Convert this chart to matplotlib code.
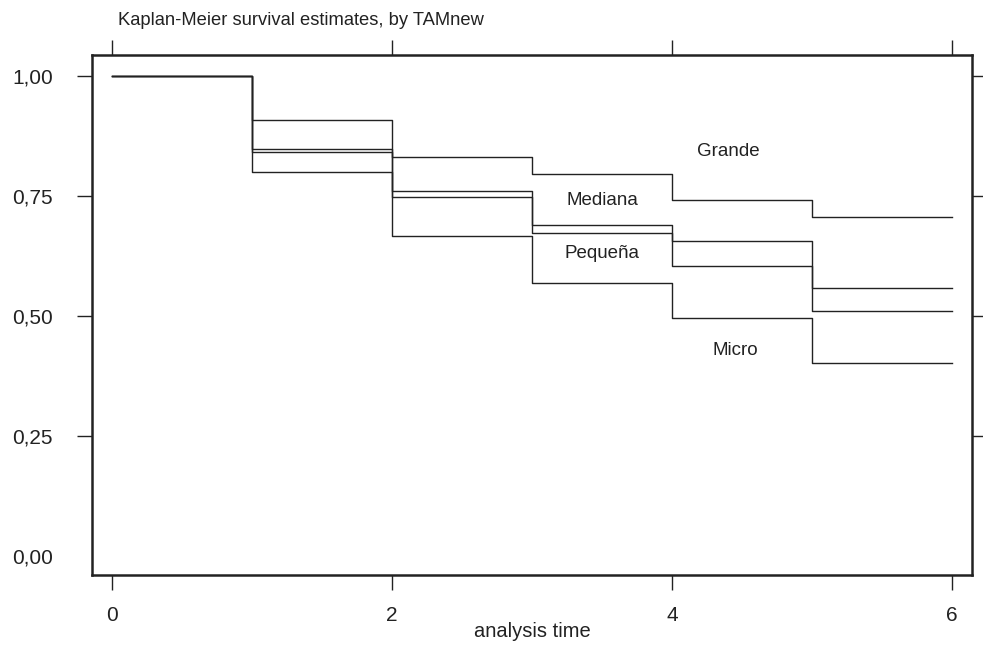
import matplotlib.pyplot as plt

plt.rcParams['font.family'] = ['Liberation Sans Narrow', 'Liberation Sans', 'DejaVu Sans']

# Kaplan-Meier estimates at each time step (value holds from t to t+1)
times = [0, 1, 2, 3, 4, 5, 6]
grande = [1.0, 0.908, 0.832, 0.796, 0.742, 0.706, 0.706]
mediana = [1.0, 0.848, 0.761, 0.689, 0.656, 0.558, 0.558]
pequena = [1.0, 0.842, 0.747, 0.672, 0.604, 0.510, 0.510]
micro = [1.0, 0.800, 0.667, 0.568, 0.495, 0.403, 0.403]

series = [grande, mediana, pequena, micro]
labels = ['Grande', 'Mediana', 'Pequeña', 'Micro']
label_pos = [(4.4, 0.842), (3.5, 0.740), (3.5, 0.631), (4.45, 0.427)]

yticks = [0, 0.25, 0.5, 0.75, 1.0]
ytick_labels = ['0,00', '0,25', '0,50', '0,75', '1,00']
xticks = [0, 2, 4, 6]

fig = plt.figure(figsize=(9.83, 6.45), dpi=100)
ax = fig.add_axes([0.0936, 0.1085, 0.8952, 0.8062])

for s in series:
    ax.step(times, s, where='post', color='#222222', lw=1.0)

for lab, (x, y) in zip(labels, label_pos):
    ax.text(x, y, lab, ha='center', va='center', fontsize=13.5, color='#222222')

ax.set_xlim(-0.143, 6.143)
ax.set_ylim(-0.04, 1.044)

ax.set_xticks(xticks)
ax.set_yticks(yticks)
ax.set_yticklabels(ytick_labels)
ax.tick_params(axis='both', direction='out', length=11, width=1.0,
               color='#222222', labelsize=15, labelcolor='#222222')
ax.tick_params(axis='x', top=True, pad=11)
ax.tick_params(axis='y', right=True, pad=17)
yt = ax.yaxis.get_major_ticks()[0]
yt.tick1line.set_visible(False)
yt.tick2line.set_visible(False)

for sp in ax.spines.values():
    sp.set_linewidth(1.8)
    sp.set_color('#222222')

ax.set_xlabel('analysis time', fontsize=14.5, color='#222222', labelpad=-2)
fig.text(0.12, 0.968, 'Kaplan-Meier survival estimates, by TAMnew',
         fontsize=13.2, color='#222222', ha='left', va='center')

fig.savefig('out.png', dpi=100, facecolor='white')
